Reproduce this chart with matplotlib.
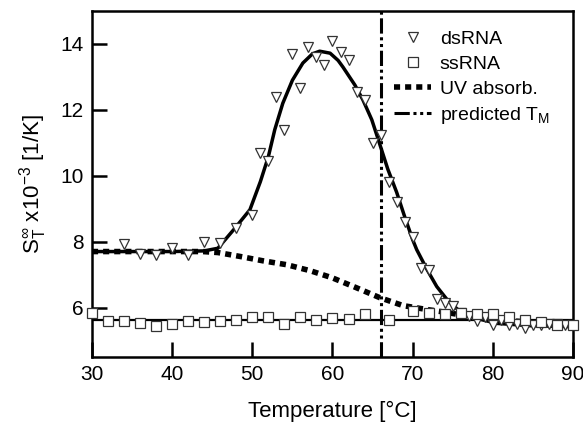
import matplotlib
matplotlib.use("Agg")
import matplotlib.pyplot as plt

plt.rcParams['font.family'] = ['Liberation Sans', 'DejaVu Sans']
plt.rcParams['mathtext.fontset'] = 'custom'
plt.rcParams['mathtext.rm'] = 'Liberation Sans'
plt.rcParams['mathtext.it'] = 'Liberation Sans:italic'

# dsRNA messpunkten
ds_x = [34, 36, 38, 40, 42, 44, 46, 48, 50, 51, 52, 53, 54, 55, 56, 57, 58, 59, 60,
        61, 62, 63, 64, 65, 66, 67, 68, 69, 70, 71, 72, 73, 74, 75, 76, 77, 78, 79,
        80, 81, 82, 83, 84, 85, 86, 87, 88, 89, 90]
ds_y = [7.94, 7.64, 7.6, 7.8, 7.6, 8.0, 7.95, 8.4, 8.8, 10.7, 10.45, 12.4, 11.4, 13.7,
        12.65, 13.9, 13.6, 13.35, 14.1, 13.75, 13.5, 12.55, 12.3, 11.0, 11.25, 9.8,
        9.2, 8.6, 8.15, 7.2, 7.15, 6.25, 6.15, 6.06, 5.85, 5.75, 5.58, 5.7, 5.48,
        5.63, 5.48, 5.5, 5.38, 5.48, 5.48, 5.5, 5.5, 5.48, 5.48]

# ssRNA messpunkten
ss_x = [30, 32, 34, 36, 38, 40, 42, 44, 46, 48, 50, 52, 54, 56, 58, 60, 62, 64, 67,
        70, 72, 74, 76, 78, 80, 82, 84, 86, 88, 90]
ss_y = [5.85, 5.6, 5.58, 5.52, 5.45, 5.5, 5.6, 5.55, 5.6, 5.63, 5.72, 5.72, 5.5, 5.72,
        5.63, 5.68, 5.66, 5.8, 5.63, 5.9, 5.85, 5.82, 5.85, 5.8, 5.8, 5.7, 5.63, 5.55,
        5.48, 5.48]

fit_ds_x = [30, 40, 44, 45.7, 47.8, 49.7, 51, 52, 52.8, 53.8, 55, 56.3, 57.5, 58.4,
            59.7, 60.7, 61.3, 62.8, 63.8, 64.9, 65.8, 66.9, 68, 69, 70, 70.5, 71.8,
            73, 74.3, 75.9, 78, 80.5, 84.6, 90]
fit_ds_y = [7.7, 7.7, 7.72, 7.8, 8.4, 8.97, 9.82, 10.58, 11.4, 12.2, 12.9, 13.42, 13.7,
            13.78, 13.72, 13.5, 13.3, 12.75, 12.3, 11.7, 11.03, 10.2, 9.5, 8.76, 8.06,
            7.76, 7.15, 6.64, 6.24, 5.88, 5.67, 5.52, 5.45, 5.42]

# fit ssRNA
fit_ss_x = [30, 90]
fit_ss_y = [5.63, 5.63]

# UV absorptie
uv_x = [30, 40, 43.8, 45.7, 48.5, 51.3, 54.3, 57.2, 60, 63, 65.9, 68.8, 71.8, 74.3,
        77.1, 80.5, 84.6, 90]
uv_y = [7.7, 7.7, 7.7, 7.67, 7.55, 7.42, 7.3, 7.12, 6.9, 6.6, 6.3, 6.06, 5.94, 5.85,
        5.73, 5.64, 5.55, 5.47]

TM_ = 66  # voorspelde smelttemperatuur

fig = plt.figure(figsize=(5.83, 4.23), dpi=100)
ax = fig.add_axes([92 / 583, 1 - 357 / 423, 481 / 583, 346 / 423])

ax.plot(fit_ss_x, fit_ss_y, color='black', lw=1.6, zorder=2)
ax.plot(fit_ds_x, fit_ds_y, color='black', lw=2.5, zorder=3)
ax.plot(uv_x, uv_y, color='black', lw=4, linestyle=(0, (1.1, 0.9)), zorder=2,
        label='UV absorb.')
ax.axvline(TM_, color='black', lw=2.2, linestyle=(0, (5, 1.2, 1, 1.2, 1, 1.2)),
           zorder=2, label='predicted T$_\\mathrm{M}$')
ax.plot(ds_x, ds_y, linestyle='none', marker='v', ms=7.2, mfc='white', mec='#333333',
        mew=0.9, zorder=4, label='dsRNA')
ax.plot(ss_x, ss_y, linestyle='none', marker='s', ms=6.6, mfc='white', mec='#333333',
        mew=0.9, zorder=4, label='ssRNA', clip_on=False)

ax.set_xlim(30, 90)
ax.set_ylim(4.5, 15)
ax.set_xticks([30, 40, 50, 60, 70, 80, 90])
ax.set_yticks([6, 8, 10, 12, 14])
ax.tick_params(direction='in', length=11, width=1.8, labelsize=15, pad=6)
for s_ in ax.spines.values():
    s_.set_linewidth(1.8)

ax.set_xlabel('Temperature [°C]', fontsize=16, labelpad=12)
ax.set_ylabel(r'$\mathrm{S}_\mathrm{T}^{\infty}$ x10$^{-3}$ [1/K]', fontsize=16, labelpad=8)

h_, l_ = ax.get_legend_handles_labels()
orde_ = [2, 3, 0, 1]
ax.legend([h_[i] for i in orde_], [l_[i] for i in orde_], loc='upper left',
          bbox_to_anchor=(0.612, 0.967), frameon=False, fontsize=14, handlelength=1.9,
          handletextpad=0.45, labelspacing=0.38, borderaxespad=0)

plt.savefig('out.png', dpi=100)
plt.close()
